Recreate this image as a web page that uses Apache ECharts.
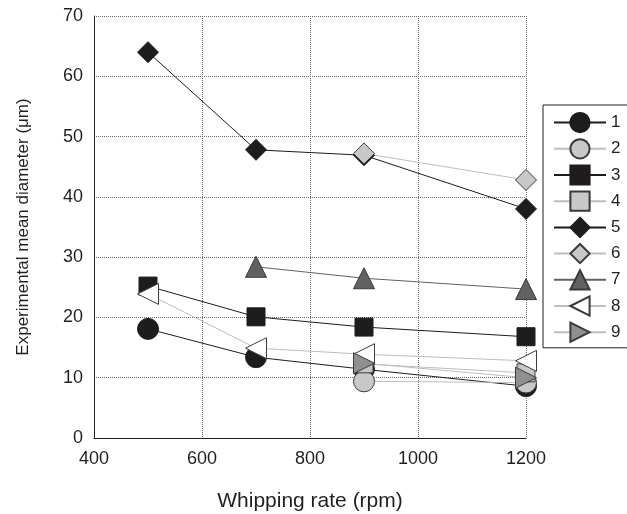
<!DOCTYPE html>
<html>
<head>
<meta charset="utf-8">
<script src="https://cdn.jsdelivr.net/npm/echarts@6/dist/echarts.min.js"></script>
<style>
html, body { margin: 0; padding: 0; background: #fff; }
#chart { width: 627px; height: 514px; }
</style>
</head>
<body>
<div id="chart"></div>
<script>
// whipping rate (rpm)
var rates = [500, 700, 900, 1200];

// mean diameter (um) per sample, null where not measured
var s1 = [18.1, 13.4, 11.4, 8.6];
var s2 = [null, null, 9.4, 9.2];
var s3 = [25.2, 20.1, 18.4, 16.8];
var s4 = [null, null, 12.3, 10.8];
var s5 = [64.0, 47.8, 46.9, 38.0];
var s6 = [null, null, 47.2, 42.8];
var s7 = [null, 28.4, 26.5, 24.7];
var s8 = [23.9, 14.9, 13.9, 12.8];
var s9 = [null, null, 12.4, 10.0];

var names = ['1', '2', '3', '4', '5', '6', '7', '8', '9'];
var values = [s1, s2, s3, s4, s5, s6, s7, s8, s9];

// symbol, rotate, fill, border, line colour
var looks = [
	['circle', 0, '#1e1c1d', '#1e1c1d', '#1e1c1d'],
	['circle', 0, '#c8c8c8', '#3a3a3a', '#bdbdbd'],
	['rect', 0, '#1e1c1d', '#1e1c1d', '#1e1c1d'],
	['rect', 0, '#c8c8c8', '#3a3a3a', '#bdbdbd'],
	['diamond', 0, '#1e1c1d', '#1e1c1d', '#1e1c1d'],
	['diamond', 0, '#c8c8c8', '#3a3a3a', '#bdbdbd'],
	['triangle', 0, '#616161', '#3a3a3a', '#616161'],
	['triangle', 90, '#ffffff', '#3a3a3a', '#bdbdbd'],
	['triangle', -90, '#8f8f8f', '#3a3a3a', '#bdbdbd']
];

var series = names.map(function (n, i) {
	var lk = looks[i];
	return {
		name: n,
		type: 'line',
		data: rates.map(function (r, j) { return [r, values[i][j]]; }),
		connectNulls: true,
		symbol: lk[0],
		symbolRotate: lk[1],
		symbolSize: lk[0] == 'rect' ? 18 : 21,
		showAllSymbol: true,
		lineStyle: { color: lk[4], width: 1 },
		itemStyle: { color: lk[2], borderColor: lk[3], borderWidth: 1 },
		emphasis: { disabled: true },
		animation: false
	};
});

var plain = function (v) { return String(v); };

var chart = echarts.init(document.getElementById('chart'));
chart.setOption({
	animation: false,
	textStyle: { fontFamily: 'Liberation Sans', color: '#231f20' },
	grid: { left: 94, right: 101, top: 16, bottom: 76, outerBoundsMode: 'none' },
	legend: {
		orient: 'vertical',
		left: 543,
		top: 105,
		padding: [7, 14, 5, 10],
		itemWidth: 52,
		itemHeight: 24,
		itemGap: 5,
		borderColor: '#231f20',
		borderWidth: 1,
		textStyle: { fontSize: 17, color: '#231f20' },
		data: names
	},
	xAxis: {
		type: 'value',
		min: 400,
		max: 1200,
		interval: 200,
		name: 'Whipping rate (rpm)',
		nameLocation: 'middle',
		nameGap: 53,
		nameTextStyle: { fontSize: 21, color: '#231f20' },
		axisLine: { lineStyle: { color: '#231f20', width: 1 } },
		axisTick: { show: false },
		axisLabel: { fontSize: 18, color: '#231f20', margin: 12, formatter: plain },
		splitLine: { lineStyle: { color: '#6a6a6a', type: [1, 1], width: 1 } }
	},
	yAxis: {
		type: 'value',
		min: 0,
		max: 70,
		interval: 10,
		name: 'Experimental mean diameter (\u03bcm)',
		nameLocation: 'middle',
		nameGap: 62,
		nameTextStyle: { fontSize: 17, color: '#231f20' },
		axisLine: { show: true, lineStyle: { color: '#231f20', width: 1 } },
		axisTick: { show: false },
		axisLabel: { fontSize: 18, color: '#231f20', margin: 11, formatter: plain },
		splitLine: { lineStyle: { color: '#6a6a6a', type: [1, 1], width: 1 } }
	},
	series: series
});
</script>
</body>
</html>
